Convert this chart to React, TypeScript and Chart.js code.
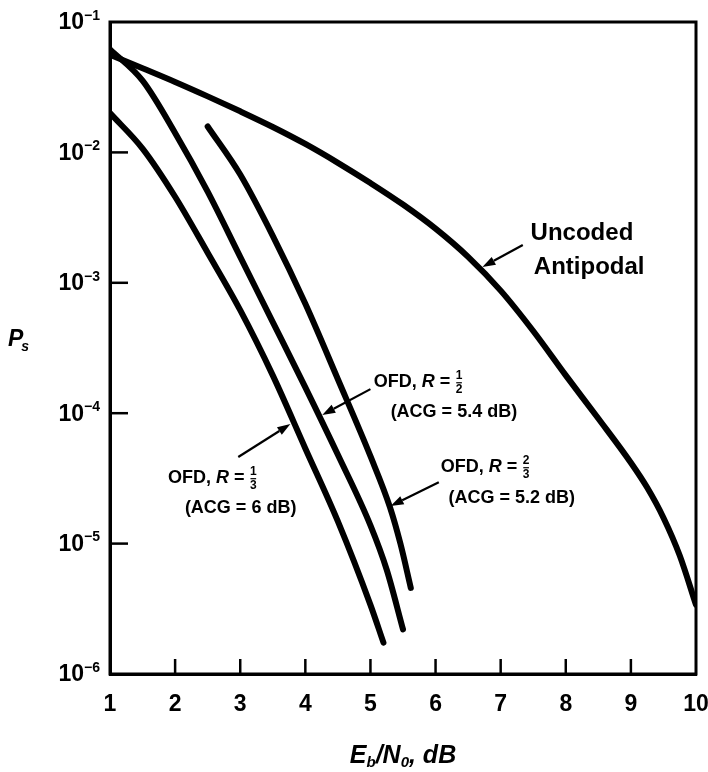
import React, { useEffect, useRef } from 'react';
import { Chart, registerables } from 'chart.js';

Chart.register(...registerables);

const FONT = "'Liberation Sans', 'DejaVu Sans', Arial, sans-serif";

// Axis ticks
const xTickValues = [1, 2, 3, 4, 5, 6, 7, 8, 9, 10];
const yTickValues = [1e-6, 1e-5, 1e-4, 1e-3, 1e-2, 1e-1];
const yTickBase = '10';
const yTickExponents = ['−6', '−5', '−4', '−3', '−2', '−1'];

// Uncoded antipodal
const uncodedX = [1, 1.5, 2, 2.5, 3, 3.5, 4, 4.5, 5, 5.5, 6, 6.5, 7, 7.5, 8, 8.5, 9, 9.25, 9.5, 9.75, 10];
const uncodedY = [0.0562, 0.0442, 0.0347, 0.0269, 0.02065, 0.01567, 0.01161, 0.00832, 0.00582, 0.00398, 0.0026, 0.00158, 8.71e-4, 4.27e-4, 1.95e-4, 9.1e-5, 4.17e-5, 2.69e-5, 1.58e-5, 8.1e-6, 3.39e-6];

// OFD, R = 1/2
const r12X = [1, 1.5, 2, 2.5, 3, 3.5, 4, 4.5, 5, 5.25, 5.5];
const r12Y = [0.0617, 0.0355, 0.0141, 0.005, 0.00158, 5.0e-4, 1.58e-4, 4.8e-5, 1.38e-5, 6.3e-6, 2.2e-6];

// OFD, R = 1/3
const r13X = [1, 1.5, 2, 2.5, 3, 3.5, 4, 4.5, 5, 5.2];
const r13Y = [0.02, 0.0107, 0.00457, 0.0017, 6.17e-4, 1.95e-4, 5.37e-5, 1.48e-5, 3.39e-6, 1.74e-6];

// OFD, R = 2/3
const r23X = [2.5, 3, 3.5, 4, 4.5, 5, 5.3, 5.46, 5.62];
const r23Y = [0.0158, 0.00676, 0.00229, 6.9e-4, 1.82e-4, 4.68e-5, 1.9e-5, 1.0e-5, 4.57e-6];

// Annotation texts (data-anchored: left x, vertical centre y)
type Part = { t?: string; i?: boolean; frac?: [string, string] };
const labelUncoded: Part[] = [{ t: 'Uncoded' }];
const labelAntipodal: Part[] = [{ t: 'Antipodal' }];
const labelR12: Part[] = [{ t: 'OFD, ' }, { t: 'R', i: true }, { t: ' = ' }, { frac: ['1', '2'] }];
const labelR13: Part[] = [{ t: 'OFD, ' }, { t: 'R', i: true }, { t: ' = ' }, { frac: ['1', '3'] }];
const labelR23: Part[] = [{ t: 'OFD, ' }, { t: 'R', i: true }, { t: ' = ' }, { frac: ['2', '3'] }];
const labelAcg12: Part[] = [{ t: '(ACG = 5.4 dB)' }];
const labelAcg13: Part[] = [{ t: '(ACG = 6 dB)' }];
const labelAcg23: Part[] = [{ t: '(ACG = 5.2 dB)' }];

const textNotes: { x: number; y: number; parts: Part[]; size: number }[] = [
  { x: 7.46, y: 2.41e-3, parts: labelUncoded, size: 24 },
  { x: 7.51, y: 1.32e-3, parts: labelAntipodal, size: 24 },
  { x: 5.05, y: 1.73e-4, parts: labelR12, size: 18 },
  { x: 5.31, y: 1.02e-4, parts: labelAcg12, size: 18 },
  { x: 1.89, y: 3.18e-5, parts: labelR13, size: 18 },
  { x: 2.15, y: 1.87e-5, parts: labelAcg13, size: 18 },
  { x: 6.08, y: 3.86e-5, parts: labelR23, size: 18 },
  { x: 6.2, y: 2.24e-5, parts: labelAcg23, size: 18 },
];

const arrowNotes: { from: [number, number]; to: [number, number] }[] = [
  { from: [7.34, 1.95e-3], to: [6.72, 1.32e-3] },
  { from: [5.0, 1.53e-4], to: [4.26, 9.7e-5] },
  { from: [2.97, 4.61e-5], to: [3.77, 8.26e-5] },
  { from: [6.05, 2.96e-5], to: [5.31, 1.94e-5] },
];

function drawParts(ctx: CanvasRenderingContext2D, x: number, y: number, parts: Part[], size: number) {
  let cx = x;
  ctx.textBaseline = 'middle';
  ctx.textAlign = 'left';
  for (const p of parts) {
    if (p.frac) {
      const fs = Math.round(size * 0.64);
      ctx.font = `bold ${fs}px ${FONT}`;
      const w = Math.max(ctx.measureText(p.frac[0]).width, ctx.measureText(p.frac[1]).width) + 1;
      ctx.textAlign = 'center';
      ctx.fillText(p.frac[0], cx + w / 2, y - fs * 0.5);
      ctx.fillText(p.frac[1], cx + w / 2, y + fs * 0.62);
      ctx.fillRect(cx + 1, y, w - 2, 1.2);
      ctx.textAlign = 'left';
      cx += w;
    } else if (p.t) {
      ctx.font = `${p.i ? 'italic ' : ''}bold ${size}px ${FONT}`;
      ctx.fillText(p.t, cx, y);
      cx += ctx.measureText(p.t).width;
    }
  }
}

function drawArrow(ctx: CanvasRenderingContext2D, x1: number, y1: number, x2: number, y2: number) {
  const ang = Math.atan2(y2 - y1, x2 - x1);
  const hl = 13;
  const hw = 4.5;
  const bx = x2 - hl * Math.cos(ang);
  const by = y2 - hl * Math.sin(ang);
  ctx.lineWidth = 2.2;
  ctx.beginPath();
  ctx.moveTo(x1, y1);
  ctx.lineTo(bx, by);
  ctx.stroke();
  ctx.beginPath();
  ctx.moveTo(x2, y2);
  ctx.lineTo(bx + hw * Math.sin(ang), by - hw * Math.cos(ang));
  ctx.lineTo(bx - hw * Math.sin(ang), by + hw * Math.cos(ang));
  ctx.closePath();
  ctx.fill();
}

const decorPlugin = {
  id: 'decor',
  afterDraw(chart: any) {
    const { ctx, chartArea: a, scales } = chart;
    const xs = scales.x;
    const ys = scales.y;
    ctx.save();
    ctx.strokeStyle = '#000';
    ctx.fillStyle = '#000';
    // frame
    ctx.lineWidth = 3;
    ctx.strokeRect(a.left, a.top, a.right - a.left, a.bottom - a.top);
    // inward ticks
    ctx.lineWidth = 2.5;
    xTickValues.slice(1, -1).forEach((v) => {
      const px = xs.getPixelForValue(v);
      ctx.beginPath();
      ctx.moveTo(px, a.bottom);
      ctx.lineTo(px, a.bottom - 15);
      ctx.stroke();
    });
    yTickValues.slice(1, -1).forEach((v) => {
      const py = ys.getPixelForValue(v);
      ctx.beginPath();
      ctx.moveTo(a.left, py);
      ctx.lineTo(a.left + 18, py);
      ctx.stroke();
    });
    // y tick labels 10^n
    ctx.textAlign = 'right';
    ctx.textBaseline = 'middle';
    yTickValues.forEach((v, i) => {
      const py = ys.getPixelForValue(v);
      const right = a.left - 10;
      ctx.font = `bold 14px ${FONT}`;
      const ew = ctx.measureText(yTickExponents[i]).width;
      ctx.fillText(yTickExponents[i], right, py - 6);
      ctx.font = `bold 23px ${FONT}`;
      ctx.fillText(yTickBase, right - ew, py + 1);
    });
    // annotations
    textNotes.forEach((n) => {
      drawParts(ctx, xs.getPixelForValue(n.x), ys.getPixelForValue(n.y), n.parts, n.size);
    });
    arrowNotes.forEach((ar) => {
      drawArrow(
        ctx,
        xs.getPixelForValue(ar.from[0]), ys.getPixelForValue(ar.from[1]),
        xs.getPixelForValue(ar.to[0]), ys.getPixelForValue(ar.to[1])
      );
    });
    // y axis title P_s
    ctx.textBaseline = 'alphabetic';
    ctx.textAlign = 'left';
    const midY = (a.top + a.bottom) / 2;
    ctx.font = `italic bold 23px ${FONT}`;
    ctx.fillText('P', 8, midY - 2);
    const pw = ctx.measureText('P').width;
    ctx.font = `italic bold 14px ${FONT}`;
    ctx.fillText('s', 8 + pw - 2, midY + 3);
    // x axis title E_b/N_0, dB
    const big = `italic bold 25px ${FONT}`;
    const small = `italic bold 15px ${FONT}`;
    const segs: [string, string, number][] = [
      ['E', big, 0], ['b', small, 4], ['/N', big, 0], ['0', small, 4], [', dB', big, 0],
    ];
    let total = 0;
    segs.forEach((s) => { ctx.font = s[1]; total += ctx.measureText(s[0]).width; });
    let cx = (a.left + a.right) / 2 - total / 2;
    const base = a.bottom + 89;
    segs.forEach((s) => {
      ctx.font = s[1];
      ctx.fillText(s[0], cx, base + s[2]);
      cx += ctx.measureText(s[0]).width;
    });
    ctx.restore();
  },
};

function mk(xs: number[], ys: number[]) {
  return {
    data: xs.map((x, i) => ({ x, y: ys[i] })),
    borderColor: '#000',
    borderWidth: 6,
    pointRadius: 0,
    fill: false,
    cubicInterpolationMode: 'monotone' as const,
    borderCapStyle: 'round' as const,
    borderJoinStyle: 'round' as const,
  };
}

export default function App() {
  const ref = useRef<HTMLCanvasElement | null>(null);
  useEffect(() => {
    if (!ref.current) return;
    const chart = new Chart(ref.current, {
      type: 'line',
      data: {
        datasets: [mk(uncodedX, uncodedY), mk(r12X, r12Y), mk(r13X, r13Y), mk(r23X, r23Y)],
      },
      options: {
        animation: false,
        responsive: false,
        devicePixelRatio: 1,
        layout: { padding: { top: 22, right: 0, left: 0, bottom: 0 } },
        plugins: { legend: { display: false }, tooltip: { enabled: false }, title: { display: false } },
        scales: {
          x: {
            type: 'linear',
            min: 1,
            max: 10,
            afterFit: (s: any) => { s.height = 98; s.paddingRight = 12; s.paddingLeft = 0; },
            afterBuildTicks: (s: any) => { s.ticks = xTickValues.map((v) => ({ value: v })); },
            grid: { display: false, drawTicks: false },
            border: { display: true, color: '#000', width: 3 },
            ticks: {
              color: '#000',
              font: { family: FONT, size: 23, weight: 'bold' },
              padding: 17,
              autoSkip: false,
              maxRotation: 0,
              callback: (v: any) => String(v),
            },
          },
          y: {
            type: 'logarithmic',
            min: 1e-6,
            max: 1e-1,
            afterFit: (s: any) => { s.width = 110; s.paddingTop = 0; s.paddingBottom = 0; },
            afterBuildTicks: (s: any) => { s.ticks = yTickValues.map((v) => ({ value: v })); },
            grid: { display: false, drawTicks: false },
            border: { display: true, color: '#000', width: 3 },
            ticks: { display: false },
          },
        },
      } as any,
      plugins: [decorPlugin],
    });
    return () => chart.destroy();
  }, []);
  return (
    <div style={{ position: 'fixed', left: 0, top: 0, width: 708, height: 772, background: '#fff' }}>
      <canvas ref={ref} width={708} height={772} style={{ width: 708, height: 772, display: 'block' }} />
    </div>
  );
}
